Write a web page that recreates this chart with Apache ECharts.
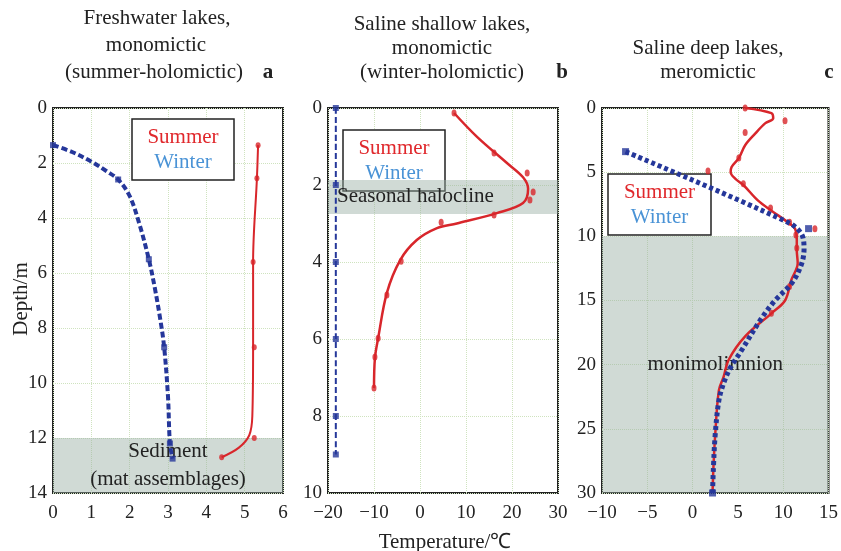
<!DOCTYPE html>
<html lang="en">
<head>
    <meta charset="utf-8">
    <style>
        html, body, #container {
          width: 841px;
          height: 551px;
          margin: 0;
          padding: 0;
          background: #fff;
        }
    </style>
</head>
<body>
<div id="container"></div>
<script type="text/javascript" src="https://cdn.jsdelivr.net/npm/echarts@6/dist/echarts.min.js"></script>
<script type="text/javascript">
  // panel a: freshwater lake, [temperature, depth]
  var aWinterCurve = [[0,1.35],[0.5,1.6],[1.0,1.95],[1.4,2.3],[1.7,2.6],[2.0,3.2],[2.25,4.2],[2.5,5.5],[2.65,6.5],[2.8,7.7],[2.9,8.7],[3.0,10.5],[3.05,12.2],[3.12,12.75]];
  var aWinterPts = [[0,1.35],[1.7,2.6],[2.5,5.5],[2.9,8.7],[3.05,12.2],[3.12,12.75]];
  var aSummerCurve = [[5.35,1.35],[5.32,2.55],[5.22,5.6],[5.22,8.7],[5.2,11.2],[5.12,11.9],[4.85,12.35],[4.4,12.7]];
  var aSummerPts = [[5.35,1.35],[5.32,2.55],[5.22,5.6],[5.25,8.7],[5.25,12.0],[4.4,12.7]];

  // panel b: saline shallow lake
  var bWinterCurve = [[-18.3,0],[-18.3,9]];
  var bWinterPts = [[-18.3,0],[-18.3,2],[-18.3,4],[-18.3,6],[-18.3,8],[-18.3,9]];
  var bSummerCurve = [[7.4,0.13],[12.4,0.75],[18.9,1.43],[22.4,1.8],[23.5,2.1],[22.4,2.47],[16.7,2.73],[8,3.0],[3.7,3.12],[-0.7,3.43],[-4.3,3.95],[-7.2,4.8],[-9.1,5.98],[-9.8,6.5],[-10,7.27]];
  var bSummerPts = [[7.4,0.13],[16.1,1.17],[23.3,1.69],[24.6,2.18],[23.9,2.39],[16.1,2.78],[4.6,2.97],[-4.1,3.98],[-7.2,4.86],[-9.1,5.98],[-9.8,6.47],[-10,7.27]];

  // panel c: saline deep lake
  var cWinterCurve = [[-7.4,3.4],[10.5,8.9],[12,9.8],[12.3,11],[12,12.2],[11,13.6],[9.1,15],[7.5,16.5],[5.3,19],[4.2,20.2],[3.4,21.5],[2.9,22.8],[2.5,25.4],[2.3,28],[2.2,30]];
  var cWinterPts = [[-7.4,3.4],[12.8,9.4],[2.2,30]];
  var cSummerCurve = [[5.8,0],[8.7,0.4],[8.9,0.8],[8.0,1.2],[6.9,2.0],[5.8,2.9],[5.1,3.9],[4.3,4.6],[4.2,5.0],[4.7,5.5],[5.6,6.0],[7.2,7.2],[8.7,8.0],[10.5,8.9],[11.3,9.4],[11.5,10.3],[11.5,11.1],[11.6,12.1],[10.9,13.4],[10.2,15],[8.7,16],[5.8,17.8],[4.0,19.6],[3.4,21],[2.9,22],[2.5,25.4],[2.3,28],[2.2,30]];
  var cSummerPts = [[5.8,0],[10.2,1.0],[5.8,1.9],[5.1,3.9],[1.7,4.9],[5.6,5.9],[8.6,7.8],[10.7,8.9],[13.5,9.4],[11.4,9.9],[11.5,10.9],[10.7,13.9],[8.7,16.0]];

  // axes ranges [min, max, interval]
  var xRanges = [[0,6,1],[-20,30,10],[-10,15,5]];
  var yRanges = [[0,14,2],[0,10,2],[0,30,5]];
  var zones = [
    {from: 12, to: 14, text: 'Sediment\n(mat assemblages)'},
    {from: 1.87, to: 2.75, text: 'Seasonal halocline'},
    {from: 10, to: 30, text: 'monimolimnion'}
  ];

  var FONT = '"Liberation Serif", "Times New Roman", serif';
  var RED = '#d8262b';
  var BLUE = '#25379a';
  var grids = [
    {left: 53, top: 108, width: 230, height: 385},
    {left: 328, top: 108, width: 230, height: 385},
    {left: 602, top: 108, width: 229, height: 385}
  ];

  var dom = document.getElementById('container');
  var myChart = echarts.init(dom, null, {renderer: 'canvas'});

  function minus(v) { return String(v).replace('-', '\u2212'); }

  var xAxes = [], yAxes = [];
  for (var i = 0; i < 3; i++) {
    grids[i].show = true;
    grids[i].borderColor = '#222';
    grids[i].borderWidth = 2;
    xAxes.push({
      gridIndex: i, type: 'value',
      min: xRanges[i][0], max: xRanges[i][1], interval: xRanges[i][2],
      axisLine: {show: false}, axisTick: {show: false},
      axisLabel: {color: '#222', fontFamily: FONT, fontSize: 19, margin: 11, formatter: minus},
      splitLine: {show: true, lineStyle: {color: '#cfe3bf', type: 'dotted'}}
    });
    yAxes.push({
      gridIndex: i, type: 'value', inverse: true,
      min: yRanges[i][0], max: yRanges[i][1], interval: yRanges[i][2],
      axisLine: {show: false}, axisTick: {show: false},
      axisLabel: {color: '#222', fontFamily: FONT, fontSize: 19, margin: 6},
      splitLine: {show: true, lineStyle: {color: '#cfe3bf', type: 'dotted'}}
    });
  }

  var zoneLabels = [
    {position: 'inside', lineHeight: 28},
    {position: 'insideLeft', distance: 9},
    {position: 'inside'}
  ];

  function curve(idx, data, color, width, type, z) {
    return {type: 'line', xAxisIndex: idx, yAxisIndex: idx, data: data, smooth: 0.35,
      showSymbol: false, z: z, lineStyle: {color: color, width: width, type: type}};
  }
  function pts(idx, data, color, symbol, size, z) {
    return {type: 'scatter', xAxisIndex: idx, yAxisIndex: idx, data: data, symbol: symbol,
      symbolSize: size, z: z, itemStyle: {color: color}};
  }

  var series = [];
  for (var k = 0; k < 3; k++) {
    series.push({
      type: 'line', xAxisIndex: k, yAxisIndex: k, data: [], z: 1,
      markArea: {
        silent: true,
        itemStyle: {color: 'rgba(150,172,162,0.45)'},
        label: Object.assign({show: true, color: '#222', fontFamily: FONT, fontSize: 21}, zoneLabels[k]),
        data: [[{yAxis: zones[k].from, name: zones[k].text}, {yAxis: zones[k].to}]]
      }
    });
  }
  series.push(
    curve(0, aSummerCurve, RED, 2, 'solid', 3),
    pts(0, aSummerPts, RED, 'circle', [5, 6], 3),
    curve(0, aWinterCurve, BLUE, 4, [6, 3], 4),
    pts(0, aWinterPts, BLUE, 'rect', 6, 4),
    curve(1, bSummerCurve, RED, 2.5, 'solid', 3),
    pts(1, bSummerPts, RED, 'circle', [5, 7], 3),
    curve(1, bWinterCurve, BLUE, 2, [6, 3], 4),
    pts(1, bWinterPts, BLUE, 'rect', 6, 4),
    curve(2, cSummerCurve, RED, 2.5, 'solid', 3),
    pts(2, cSummerPts, RED, 'circle', [5, 7], 3),
    curve(2, cWinterCurve, BLUE, 5, [4, 3], 4),
    pts(2, cWinterPts, BLUE, 'rect', 7, 4)
  );

  function txt(x, y, s, extra) {
    return {type: 'text', x: x, y: y, z: 100, style: Object.assign({text: s, fill: '#222',
      font: '21px ' + FONT, textAlign: 'center', textVerticalAlign: 'middle'}, extra || {})};
  }
  function legendBox(x, y, w, h) {
    return [
      {type: 'rect', z: 1, shape: {x: x, y: y, width: w, height: h},
        style: {fill: '#fff', stroke: '#222', lineWidth: 1.5}},
      txt(x + w / 2, y + h * 0.31, 'Summer', {fill: '#e0282c'}),
      txt(x + w / 2, y + h * 0.71, 'Winter', {fill: '#4a93d6'})
    ];
  }

  var graphic = [
    txt(157, 18, 'Freshwater lakes,'),
    txt(156, 45, 'monomictic'),
    txt(154, 72, '(summer-holomictic)'),
    txt(268, 73, 'a', {font: 'bold 21px ' + FONT}),
    txt(442, 24, 'Saline shallow lakes,'),
    txt(442, 48, 'monomictic'),
    txt(442, 72, '(winter-holomictic)'),
    txt(562, 73, 'b', {font: 'bold 21px ' + FONT}),
    txt(708, 48, 'Saline deep lakes,'),
    txt(708, 72, 'meromictic'),
    txt(829, 73, 'c', {font: 'bold 21px ' + FONT}),
    txt(445, 542, 'Temperature/\u2103'),
    {type: 'text', x: 21, y: 299, rotation: Math.PI / 2, z: 100,
      style: {text: 'Depth/m', fill: '#222', font: '21px ' + FONT, textAlign: 'center', textVerticalAlign: 'middle'}}
  ].concat(legendBox(132, 119, 102, 61), legendBox(343, 130, 102, 61), legendBox(608, 174, 103, 61));

  var option = {
    backgroundColor: '#fff',
    animation: false,
    grid: grids,
    xAxis: xAxes,
    yAxis: yAxes,
    series: series,
    graphic: graphic
  };
  myChart.setOption(option);
  window.addEventListener('resize', myChart.resize);
</script>
</body>
</html>
